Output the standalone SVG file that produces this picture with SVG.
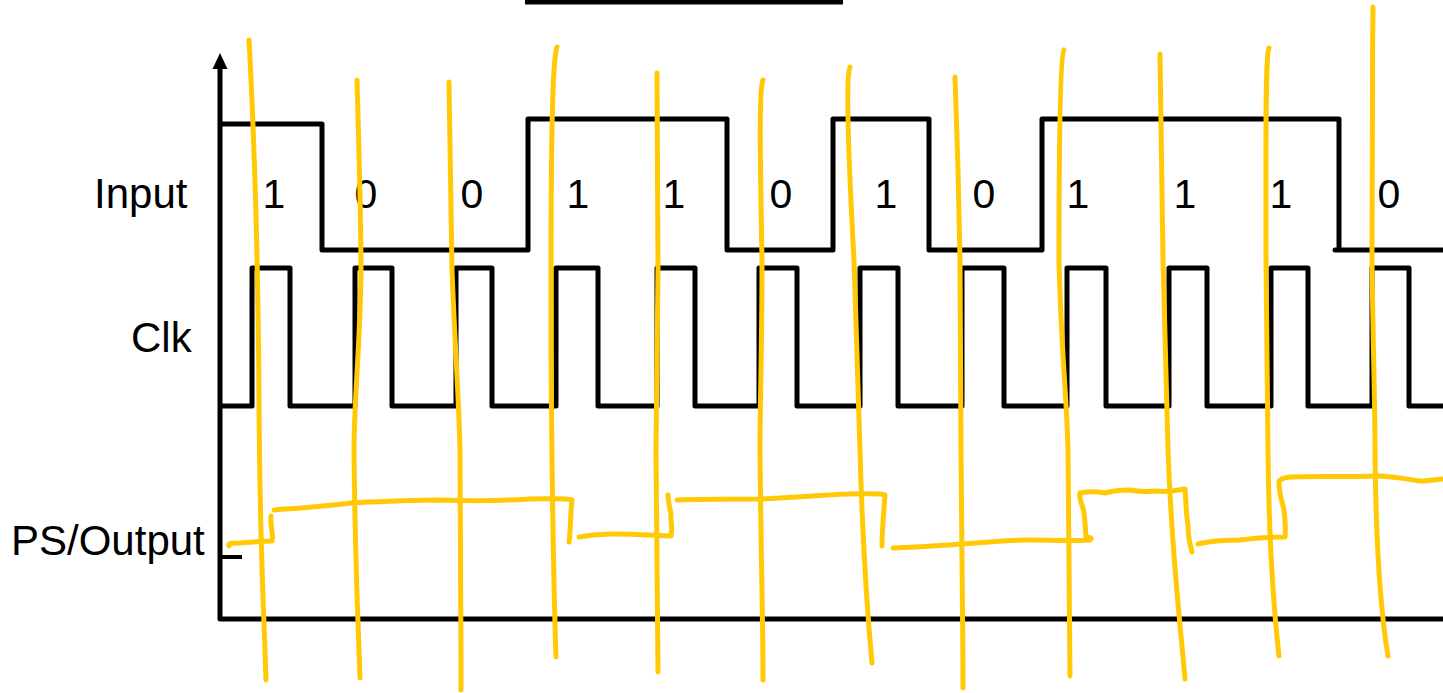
<svg xmlns="http://www.w3.org/2000/svg" width="1443" height="693" viewBox="0 0 1443 693">
<style>
.sig{fill:none;stroke:#000;stroke-width:5;stroke-linejoin:round;stroke-linecap:butt}
.lbl{font-family:"Liberation Sans",Arial,sans-serif;font-size:42px;fill:#000}
.bit{font-family:"Liberation Sans",Arial,sans-serif;font-size:41px;fill:#000;text-anchor:middle}
.hand{fill:none;stroke:#FFCA05;stroke-width:5;stroke-linecap:round;stroke-linejoin:round}
</style>
<rect width="1443" height="693" fill="#fff"/>
<g id="title-bar">
<line x1="525" y1="2" x2="843" y2="2" stroke="#000" stroke-width="5"/>
</g>
<g id="axes">
<path class="sig" d="M220,66 L220,619 L1443,619"/>
<polygon points="220,53 212.5,69 227.5,69" fill="#000"/>
<line x1="220" y1="557" x2="242" y2="557" stroke="#000" stroke-width="4"/>
</g>
<g id="labels">
<text class="lbl" x="94" y="208">Input</text>
<text class="lbl" x="131" y="352">Clk</text>
<text class="lbl" x="11" y="555">PS/Output</text>
</g>
<g id="input-signal">
<path class="sig" d="M220,124 L322,124 L322,250 L528,250 L528,119 L727,119 L727,250 L833,250 L833,119 L929,119 L929,250 L1042,250 L1042,119 L1339,119 L1339,250"/>
<line x1="1335" y1="250" x2="1443" y2="250" stroke="#000" stroke-width="5" stroke-linecap="round"/>
</g>
<g id="input-bits">
<text class="bit" x="274" y="208">1</text>
<text class="bit" x="366" y="208">0</text>
<text class="bit" x="472" y="208">0</text>
<text class="bit" x="578" y="208">1</text>
<text class="bit" x="674" y="208">1</text>
<text class="bit" x="781" y="208">0</text>
<text class="bit" x="886" y="208">1</text>
<text class="bit" x="984" y="208">0</text>
<text class="bit" x="1078" y="208">1</text>
<text class="bit" x="1185" y="208">1</text>
<text class="bit" x="1281" y="208">1</text>
<text class="bit" x="1389" y="208">0</text>
</g>
<g id="clock-signal">
<path class="sig" d="M220,406 L252,406 L252,268 L290,268 L290,406 L355,406 L355,268 L392,268 L392,406 L456,406 L456,268 L492,268 L492,406 L556,406 L556,268 L598,268 L598,406 L657,406 L657,268 L695,268 L695,406 L759,406 L759,268 L797,268 L797,406 L860,406 L860,268 L898,268 L898,406 L962,406 L962,268 L1004,268 L1004,406 L1067,406 L1067,268 L1106,268 L1106,406 L1169,406 L1169,268 L1207,268 L1207,406 L1271,406 L1271,268 L1308,268 L1308,406 L1372,406 L1372,268 L1409,268 L1409,406 L1443,406"/>
</g>
<g id="clock-edge-marks">
<path class="hand" d="M249,40 C255,150 258,250 259,400 S262,560 266,680"/>
<path class="hand" d="M357,80 C359,150 361,220 361,270 C360,350 354,400 354,450 C355,560 358,620 360,678"/>
<path class="hand" d="M449,82 C450,150 451,220 452,270 C455,350 459,400 460,450 C461,560 461,620 461,690"/>
<path class="hand" d="M557,47 C552,60 551,150 551,300 C551,450 554,600 556,657"/>
<path class="hand" d="M657,73 C658,150 658,220 658,270 C657,350 656,400 656,450 C657,560 658,620 658,672"/>
<path class="hand" d="M763,80 C759,88 760,150 762,260 C762,350 760,400 760,450 C761,560 763,620 763,680"/>
<path class="hand" d="M850,67 C846,75 848,150 854,260 C857,350 859,400 860,450 C863,560 868,620 872,663"/>
<path class="hand" d="M955,77 C957,130 959,200 960,260 C961,350 961,400 961,450 C962,560 963,620 963,688"/>
<path class="hand" d="M1064,50 C1060,55 1059,150 1059,260 C1061,350 1067,400 1068,450 C1069,560 1070,620 1070,676"/>
<path class="hand" d="M1160,54 C1161,150 1162,220 1163,260 C1165,350 1167,400 1168,450 C1172,560 1180,620 1185,679"/>
<path class="hand" d="M1269,48 C1265,55 1266,150 1266,260 C1267,350 1268,400 1268,450 C1269,560 1275,620 1279,656"/>
<path class="hand" d="M1373,7 C1372,100 1372,200 1372,260 C1373,350 1375,400 1375,450 C1376,560 1382,620 1388,656"/>
</g>
<g id="ps-output-trace">
<path class="hand" d="M229,546 C228,543 231,543 240,543 C255,542 265,541 272,541 C274,535 270,528 271,516"/>
<path class="hand" d="M274,510 C300,508 330,506 350,503 C390,501 420,500 440,500 C470,501 500,501 530,499 C550,499 565,498 572,500 C570,515 571,530 569,542"/>
<path class="hand" d="M579,537 C590,535 600,534 612,534 C640,534 660,536 671,536 C673,526 670,520 671,514 C669,505 668,500 668,495"/>
<path class="hand" d="M677,500 C700,499 730,499 760,499 C790,498 820,495 850,494 C865,494 878,493 885,495 C884,510 882,530 882,546"/>
<path class="hand" d="M893,548 C915,547 940,546 960,544 C990,542 1010,540 1030,540 C1050,540 1070,541 1090,540 C1094,538 1088,537 1086,537 C1085,525 1085,515 1083,508 C1080,500 1079,496 1080,493 C1090,491 1100,492 1105,493 C1115,490 1125,490 1130,490 C1140,492 1145,492 1155,491 C1165,492 1175,491 1185,489 C1186,500 1186,515 1188,525 C1188,535 1190,545 1192,552"/>
<path class="hand" d="M1198,544 C1210,541 1225,540 1240,540 C1255,538 1270,537 1285,537 C1286,528 1285,520 1284,510 C1282,500 1279,495 1279,482 C1280,478 1285,478 1290,477 C1310,476 1340,477 1380,476 C1400,477 1410,480 1420,481 C1430,481 1438,479 1443,479"/>
</g>
</svg>
